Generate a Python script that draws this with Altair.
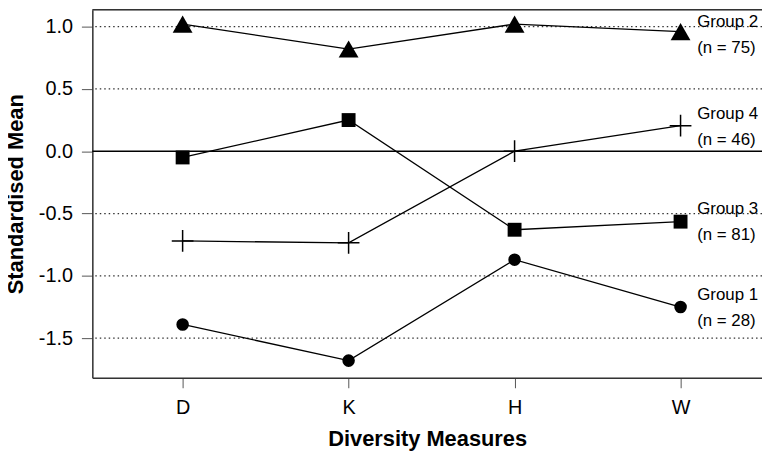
import altair as alt
import pandas as pd

measures = ["D", "K", "H", "W"]
group1 = [-1.39, -1.68, -0.87, -1.25]
group2 = [1.02, 0.82, 1.02, 0.96]
group3 = [-0.05, 0.25, -0.63, -0.565]
group4 = [-0.72, -0.735, 0.0, 0.205]
group_names = ["Group 1", "Group 2", "Group 3", "Group 4"]
group_n = ["(n = 28)", "(n = 75)", "(n = 81)", "(n = 46)"]
label_top = [-1.15, 1.04, -0.46, 0.30]
label_bottom = [-1.36, 0.825, -0.67, 0.086]
y_ticks = [-1.5, -1.0, -0.5, 0.0, 0.5, 1.0]
dotted_grid = [-1.5, -1.0, -0.5, 0.5, 1.0]

FONT = "Liberation Sans"
W, H = 675, 371
PX = 167.3
xdom = [0.456, 0.456 + W / PX]
ydom = [-1.818, 1.135]

rows = []
for g, vals in zip(group_names, [group1, group2, group3, group4]):
    for i, (m, v) in enumerate(zip(measures, vals)):
        rows.append({"group": g, "pos": i + 1, "measure": m, "value": v})
df = pd.DataFrame(rows)

lab_rows = []
for g, n, t, b in zip(group_names, group_n, label_top, label_bottom):
    lab_rows.append({"text": g, "y": t})
    lab_rows.append({"text": n, "y": b})
labels = pd.DataFrame(lab_rows)

xscale = alt.Scale(domain=xdom, nice=False, zero=False)
yscale = alt.Scale(domain=ydom, nice=False, zero=False)

label_arr = "[" + ",".join("'%s'" % m for m in measures) + "]"

x_axis = alt.Axis(
    values=[1, 2, 3, 4], labelExpr=label_arr + "[datum.value - 1]",
    title="Diversity Measures", grid=False, tickSize=10, labelPadding=10,
    labelFontSize=20, labelFont=FONT, labelColor="black",
    titleFontSize=22, titleFont=FONT, titleFontWeight="bold", titleColor="black",
    titlePadding=11, domainColor="#333", domainWidth=1.5, tickColor="#555", tickWidth=1,
)
y_axis = alt.Axis(
    values=y_ticks,
    labelExpr="(datum.value < 0 ? '-' : '') + format(abs(datum.value), '.1f')",
    title="Standardised Mean", grid=False, tickSize=11, labelPadding=9,
    labelFontSize=20, labelFont=FONT, labelColor="black",
    titleFontSize=22, titleFont=FONT, titleFontWeight="bold", titleColor="black",
    titlePadding=11, domainColor="#333", domainWidth=1.5, tickColor="#555", tickWidth=1,
)

base = alt.Chart(df)

grid = alt.Chart(pd.DataFrame({"y": dotted_grid})).mark_rule(
    color="#333", strokeDash=[1.5, 3], strokeWidth=1.2
).encode(y=alt.Y("y:Q", scale=yscale, axis=y_axis))

zero = alt.Chart(pd.DataFrame({"y": [0.0]})).mark_rule(
    color="black", strokeWidth=1.5
).encode(y=alt.Y("y:Q", scale=yscale))

top = alt.Chart(pd.DataFrame({"y": [0]})).mark_rule(
    color="#333", strokeWidth=1.5
).encode(y=alt.value(0))

lines = base.mark_line(color="black", strokeWidth=1.3).encode(
    x=alt.X("pos:Q", scale=xscale, axis=x_axis),
    y=alt.Y("value:Q", scale=yscale),
    detail="group:N",
)

def pts(g, shape, size, filled=True, sw=0):
    return base.transform_filter(alt.datum.group == g).mark_point(
        shape=shape, size=size, filled=filled, color="black", opacity=1,
        strokeWidth=sw,
    ).encode(x=alt.X("pos:Q", scale=xscale), y=alt.Y("value:Q", scale=yscale))

p1 = pts("Group 1", "circle", 160)
p2 = pts("Group 2", "triangle-up", 400)
p3 = pts("Group 3", "square", 196)
p4 = pts("Group 4", "M-1,0L1,0M0,-1L0,1", 480, filled=False, sw=1.5)

text = alt.Chart(labels).mark_text(
    align="left", baseline="middle", font=FONT, fontSize=17, color="black"
).encode(
    x=alt.value((4.1 - xdom[0]) * PX),
    y=alt.Y("y:Q", scale=yscale),
    text="text:N",
)

chart = alt.layer(grid, zero, top, lines, p1, p2, p3, p4, text).properties(
    width=W, height=H,
    padding={"left": 85, "top": 0, "right": 0, "bottom": 73},
    autosize=alt.AutoSizeParams(type="none"),
).configure_view(stroke=None).configure(background="white")

chart.save("out.html", embed_options={"renderer": "svg", "actions": False})
